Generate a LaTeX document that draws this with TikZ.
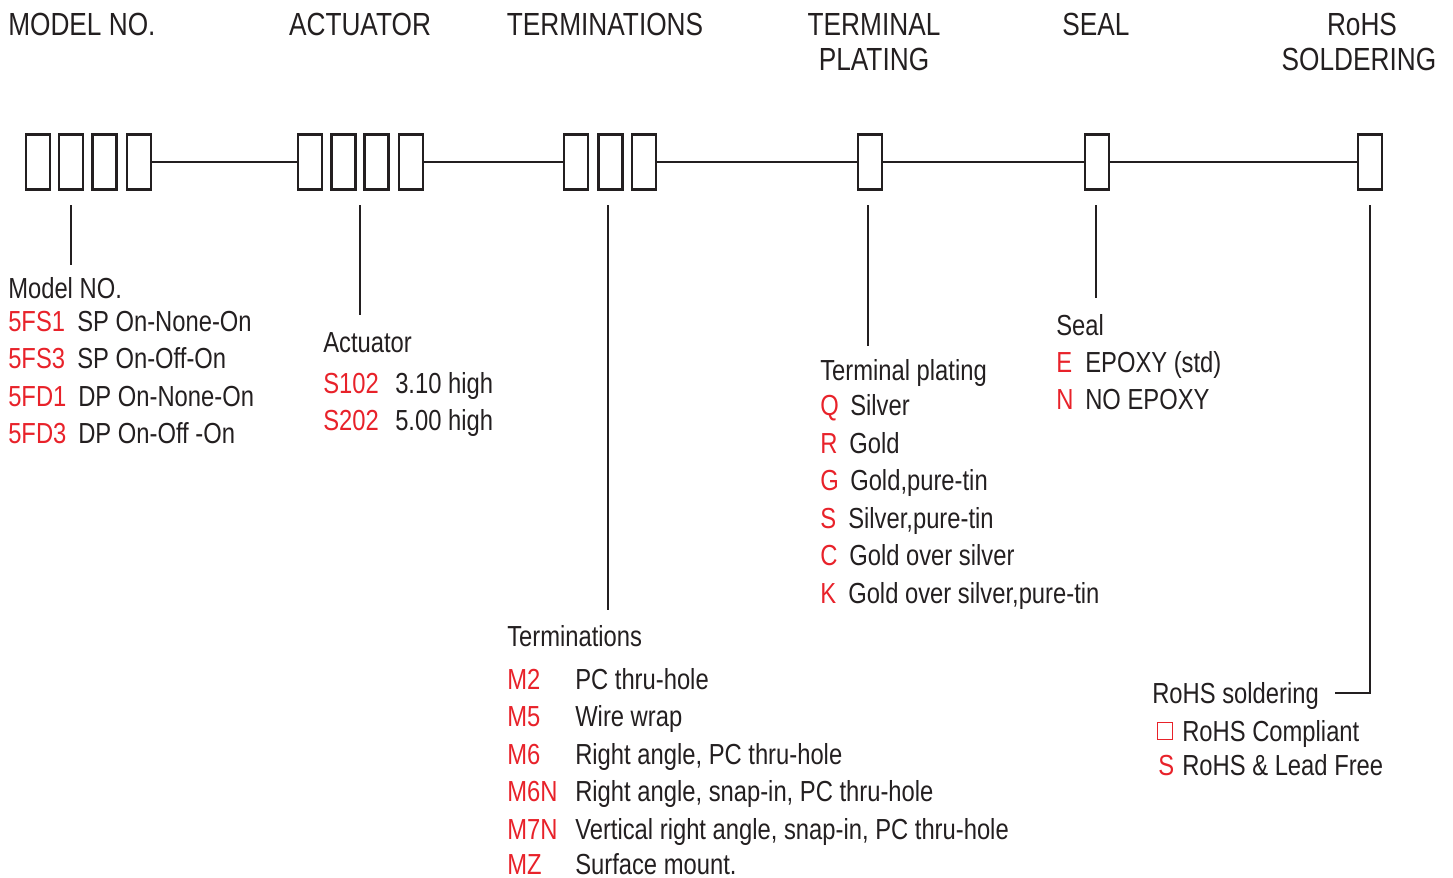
\documentclass[tikz,border=0pt]{standalone}
\usepackage{fontspec}
\setmainfont{Liberation Sans}[FakeStretch=0.82]
\definecolor{txt}{HTML}{231F20}
\definecolor{codered}{HTML}{E8222A}
\definecolor{boxc}{HTML}{231F20}
\begin{document}
\begin{tikzpicture}[x=0.75pt,y=-0.75pt,
  hdr/.style={font=\fontsize{24}{24}\selectfont, text=txt, inner sep=0pt, anchor=base},
  lbl/.style={font=\fontsize{21.75}{22}\selectfont, text=txt, inner sep=0pt, anchor=base west},
  code/.style={lbl, text=codered},
  cell/.style={draw=boxc, line width=2.2pt, minimum width=18pt, minimum height=41.25pt, inner sep=0pt},
  link/.style={draw=boxc, line width=2.2pt},
  tick/.style={draw=boxc, line width=1.5pt}]
\useasboundingbox (0,0) rectangle (1453,878);
% headers
\node[hdr, anchor=base west] (hmodel) at (8,35) {MODEL NO.};
\node[hdr] (hact) at (360,35) {ACTUATOR};
\node[hdr] (hterm) at (605,35) {TERMINATIONS};
\node[hdr] (hplat1) at (874,35) {TERMINAL};
\node[hdr] (hplat2) at (874,70) {PLATING};
\node[hdr] (hseal) at (1096,35) {SEAL};
\node[hdr] (hrohs1) at (1362,35) {RoHS};
\node[hdr] (hrohs2) at (1359,70) {SOLDERING};
% boxes
\node[cell] (m1) at (38,162) {};
\node[cell] (m2) at (71,162) {};
\node[cell] (m3) at (104.5,162) {};
\node[cell] (m4) at (139,162) {};
\node[cell] (a1) at (310,162) {};
\node[cell] (a2) at (343.5,162) {};
\node[cell] (a3) at (376.5,162) {};
\node[cell] (a4) at (411,162) {};
\node[cell] (t1) at (576,162) {};
\node[cell] (t2) at (610.5,162) {};
\node[cell] (t3) at (644,162) {};
\node[cell] (p1) at (870,162) {};
\node[cell] (s1) at (1097,162) {};
\node[cell] (r1) at (1370,162) {};
\draw[link] (m4.east) -- (a1.west);
\draw[link] (a4.east) -- (t1.west);
\draw[link] (t3.east) -- (p1.west);
\draw[link] (p1.east) -- (s1.west);
\draw[link] (s1.east) -- (r1.west);
% tick coordinates
\coordinate (mt) at (71,205);   \coordinate (mb) at (71,265);
\coordinate (at) at (360,205);  \coordinate (ab) at (360,315);
\coordinate (tt) at (608,205);  \coordinate (tb) at (608,610);
\coordinate (pt) at (868,205);  \coordinate (pb) at (868,346);
\coordinate (st) at (1096,205); \coordinate (sb) at (1096,298);
\coordinate (rt) at (1370,205); \coordinate (rc) at (1370,693); \coordinate (re) at (1335,693);
\draw[tick] (mt) -- (mb);
\draw[tick] (at) -- (ab);
\draw[tick] (tt) -- (tb);
\draw[tick] (pt) -- (pb);
\draw[tick] (st) -- (sb);
\draw[tick] (rt) -- (rc) -- (re);
% model
\node[lbl] (mh) at (8,298) {Model NO.};
\node[code] (mc1) at (8,331) {5FS1};  \node[lbl] (md1) at (77,331) {SP On-None-On};
\node[code] (mc2) at (8,368) {5FS3};  \node[lbl] (md2) at (77,368) {SP On-Off-On};
\node[code] (mc3) at (8,406) {5FD1};  \node[lbl] (md3) at (78,406) {DP On-None-On};
\node[code] (mc4) at (8,443) {5FD3};  \node[lbl] (md4) at (78,443) {DP On-Off -On};
% actuator
\node[lbl] (ah) at (323,352) {Actuator};
\node[code] (ac1) at (323,393) {S102}; \node[lbl] (ad1) at (395,393) {3.10 high};
\node[code] (ac2) at (323,430) {S202}; \node[lbl] (ad2) at (395,430) {5.00 high};
% terminations
\node[lbl] (th) at (507,646) {Terminations};
\node[code] (tc1) at (507,689) {M2};  \node[lbl] (td1) at (575,689) {PC thru-hole};
\node[code] (tc2) at (507,726) {M5};  \node[lbl] (td2) at (575,726) {Wire wrap};
\node[code] (tc3) at (507,764) {M6};  \node[lbl] (td3) at (575,764) {Right angle, PC thru-hole};
\node[code] (tc4) at (507,801) {M6N}; \node[lbl] (td4) at (575,801) {Right angle, snap-in, PC thru-hole};
\node[code] (tc5) at (507,839) {M7N}; \node[lbl] (td5) at (575,839) {Vertical right angle, snap-in, PC thru-hole};
\node[code] (tc6) at (507,874) {MZ};  \node[lbl] (td6) at (575,874) {Surface mount.};
% plating
\node[lbl] (ph) at (820,380) {Terminal plating};
\node[code] (pc1) at (820,415) {Q}; \node[lbl] (pd1) at (850,415) {Silver};
\node[code] (pc2) at (820,453) {R}; \node[lbl] (pd2) at (849,453) {Gold};
\node[code] (pc3) at (820,490) {G}; \node[lbl] (pd3) at (850,490) {Gold,pure-tin};
\node[code] (pc4) at (820,528) {S}; \node[lbl] (pd4) at (848,528) {Silver,pure-tin};
\node[code] (pc5) at (820,565) {C}; \node[lbl] (pd5) at (849,565) {Gold over silver};
\node[code] (pc6) at (820,603) {K}; \node[lbl] (pd6) at (848,603) {Gold over silver,pure-tin};
% seal
\node[lbl] (sh) at (1056,335) {Seal};
\node[code] (sc1) at (1056,372) {E}; \node[lbl] (sd1) at (1085,372) {EPOXY (std)};
\node[code] (sc2) at (1056,409) {N}; \node[lbl] (sd2) at (1085,409) {NO EPOXY};
% rohs
\node[lbl] (rh) at (1152,703) {RoHS soldering};
\node[draw=codered, line width=1.2pt, minimum width=11pt, minimum height=13pt, inner sep=0pt] (rsq) at (1165,731) {};
\node[lbl] (rd1) at (1182,741) {RoHS Compliant};
\node[code] (rc2) at (1158,775) {S}; \node[lbl] (rd2) at (1182,775) {RoHS \& Lead Free};
\end{tikzpicture}
\end{document}
